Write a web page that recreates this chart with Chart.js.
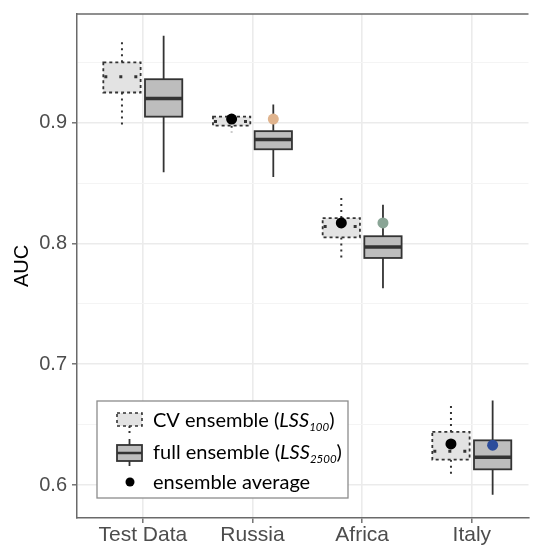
<!DOCTYPE html>
<html><head><meta charset="utf-8">
<script src="https://cdn.jsdelivr.net/npm/chart.js@4.4.1/dist/chart.umd.min.js"></script>
<style>html,body{margin:0;padding:0;background:#fff;overflow:hidden}#wrap{width:534px;height:546px;position:relative}</style>
</head><body><div id="wrap"><canvas id="c"></canvas></div>
<script>
const categories = ['Test Data', 'Russia', 'Africa', 'Italy'];
// CV ensemble (LSS100) box statistics
const cvMin = [0.896, 0.892, 0.787, 0.608];
const cvQ1  = [0.925, 0.8975, 0.805, 0.621];
const cvMed = [0.938, 0.901, 0.814, 0.628];
const cvQ3  = [0.950, 0.905, 0.821, 0.644];
const cvMax = [0.968, 0.906, 0.840, 0.667];
// full ensemble (LSS2500) box statistics
const fullMin = [0.859, 0.855, 0.763, 0.592];
const fullQ1  = [0.905, 0.878, 0.788, 0.613];
const fullMed = [0.920, 0.886, 0.797, 0.623];
const fullQ3  = [0.936, 0.893, 0.806, 0.637];
const fullMax = [0.972, 0.915, 0.832, 0.670];
// ensemble averages
const cvAvg = [null, 0.903, 0.817, 0.634];
const fullAvg = [null, 0.903, 0.817, 0.633];
const fullAvgColors = ['#000000', '#e0b48e', '#8aa596', '#2b4c9b'];
const yMajorTicks = [0.6, 0.7, 0.8, 0.9];
const yAllTicks = [0.6, 0.65, 0.7, 0.75, 0.8, 0.85, 0.9, 0.95];

const DODGE = 0.19, BOXW = 0.34;
const DARK = '#333333';
const AXIS = '#6a6a6a';

function isMajor(v) { return yMajorTicks.some(t => Math.abs(t - v) < 1e-6); }

function drawBox(ctx, x, y, pos, mn, q1, md, q3, mx, cv) {
  const cx = x.getPixelForValue(pos);
  const l = x.getPixelForValue(pos - BOXW / 2), r = x.getPixelForValue(pos + BOXW / 2);
  const yMn = y.getPixelForValue(mn), yQ1 = y.getPixelForValue(q1), yMd = y.getPixelForValue(md);
  const yQ3 = y.getPixelForValue(q3), yMx = y.getPixelForValue(mx);
  ctx.strokeStyle = DARK;
  ctx.lineCap = 'butt';
  ctx.lineWidth = cv ? 2 : 1.8;
  ctx.setLineDash(cv ? [2, 4] : []);
  ctx.beginPath();
  ctx.moveTo(cx, yQ3); ctx.lineTo(cx, yMx);
  ctx.moveTo(cx, yQ1); ctx.lineTo(cx, yMn);
  ctx.stroke();
  ctx.fillStyle = cv ? '#e3e3e3' : '#bdbdbd';
  ctx.fillRect(l, yQ3, r - l, yQ1 - yQ3);
  ctx.lineWidth = 1.8;
  ctx.setLineDash(cv ? [3, 3] : []);
  ctx.strokeRect(l, yQ3, r - l, yQ1 - yQ3);
  ctx.lineWidth = cv ? 3 : 3.5;
  ctx.setLineDash(cv ? [3, 12] : []);
  ctx.beginPath();
  ctx.moveTo(l + (cv ? 1 : 0), yMd); ctx.lineTo(r, yMd);
  ctx.stroke();
  ctx.setLineDash([]);
}

function drawRich(ctx, x, yb, parts, size) {
  let cx = x;
  parts.forEach(p => {
    const s = p.sub ? 11.5 : size;
    ctx.font = (p.it ? 'italic ' : '') + s + 'px Lato';
    ctx.fillText(p.t, cx, yb + (p.sub ? 4 : 0));
    cx += ctx.measureText(p.t).width;
  });
}

const boxPlugin = {
  id: 'boxes',
  beforeDatasetsDraw(chart) {
    const { ctx, chartArea: a, scales: { x, y } } = chart;
    ctx.save();
    ctx.beginPath(); ctx.rect(a.left, a.top, a.right - a.left, a.bottom - a.top); ctx.clip();
    categories.forEach((c, i) => {
      drawBox(ctx, x, y, i - DODGE, cvMin[i], cvQ1[i], cvMed[i], cvQ3[i], cvMax[i], true);
      drawBox(ctx, x, y, i + DODGE, fullMin[i], fullQ1[i], fullMed[i], fullQ3[i], fullMax[i], false);
    });
    ctx.restore();
  },
  afterDraw(chart) {
    const { ctx, chartArea: a } = chart;
    ctx.save();
    ctx.strokeStyle = AXIS; ctx.lineWidth = 1.5;
    ctx.beginPath(); ctx.moveTo(a.left - 0.75, a.top); ctx.lineTo(a.right, a.top); ctx.stroke();
    // legend
    const lx = 97, ly = 401, lw = 251, lh = 97;
    ctx.fillStyle = '#ffffff'; ctx.fillRect(lx, ly, lw, lh);
    ctx.strokeStyle = '#8c8c8c'; ctx.lineWidth = 1.3; ctx.strokeRect(lx, ly, lw, lh);
    ctx.strokeStyle = DARK;
    ctx.lineWidth = 2; ctx.setLineDash([2, 3]);
    ctx.beginPath(); ctx.moveTo(129.5, 426); ctx.lineTo(129.5, 435); ctx.stroke();
    ctx.fillStyle = '#e3e3e3'; ctx.fillRect(117, 413, 25, 13);
    ctx.lineWidth = 1.6; ctx.setLineDash([3, 3]); ctx.strokeRect(117, 413, 25, 13);
    ctx.setLineDash([]);
    ctx.lineWidth = 1.8;
    ctx.beginPath(); ctx.moveTo(129.5, 439); ctx.lineTo(129.5, 445); ctx.moveTo(129.5, 461); ctx.lineTo(129.5, 466); ctx.stroke();
    ctx.fillStyle = '#bdbdbd'; ctx.fillRect(117, 445, 25, 16);
    ctx.strokeRect(117, 445, 25, 16);
    ctx.lineWidth = 2.5; ctx.beginPath(); ctx.moveTo(117, 453); ctx.lineTo(142, 453); ctx.stroke();
    ctx.fillStyle = '#000'; ctx.beginPath(); ctx.arc(130, 482, 4.5, 0, Math.PI * 2); ctx.fill();
    ctx.fillStyle = '#000'; ctx.textBaseline = 'alphabetic'; ctx.textAlign = 'left';
    const fs = 20;
    drawRich(ctx, 153, 427, [{ t: 'CV ensemble (' }, { t: 'LSS', it: true }, { t: '100', it: true, sub: true }, { t: ')' }], fs);
    drawRich(ctx, 153, 459, [{ t: 'full ensemble (' }, { t: 'LSS', it: true }, { t: '2500', it: true, sub: true }, { t: ')' }], fs);
    drawRich(ctx, 153, 489, [{ t: 'ensemble average' }], fs);
    ctx.restore();
  }
};

const cvIdx = categories.map((c, i) => i).filter(i => cvAvg[i] !== null);
const fullIdx = categories.map((c, i) => i).filter(i => fullAvg[i] !== null);

new Chart(document.getElementById('c'), {
  type: 'scatter',
  data: {
    datasets: [
      { label: 'CV average', data: cvIdx.map(i => ({ x: i - DODGE, y: cvAvg[i] })),
        pointRadius: 5.5, pointBackgroundColor: '#000', pointBorderWidth: 0 },
      { label: 'full average', data: fullIdx.map(i => ({ x: i + DODGE, y: fullAvg[i] })),
        pointRadius: 5.5, pointBackgroundColor: fullIdx.map(i => fullAvgColors[i]), pointBorderWidth: 0 }
    ]
  },
  options: {
    responsive: true, maintainAspectRatio: false, animation: false,
    layout: { padding: { top: 14, right: 0, bottom: 0, left: 0 } },
    plugins: { legend: { display: false }, tooltip: { enabled: false } },
    scales: {
      x: {
        type: 'linear', min: -0.6, max: 3.517,
        afterBuildTicks: s => { s.ticks = categories.map((c, i) => ({ value: i })); },
        afterFit: s => { s.height = 28; s.paddingLeft = 0; s.paddingRight = 0; },
        ticks: { callback: v => categories[v] ?? '', color: '#4d4d4d', padding: 0,
                 font: { family: 'Liberation Sans', size: 21 }, maxRotation: 0, autoSkip: false },
        grid: { color: '#ebebeb', lineWidth: 1.6, tickLength: 5, tickColor: AXIS, tickWidth: 1.4 },
        border: { display: true, color: AXIS, width: 1.5 }
      },
      y: {
        type: 'linear', min: 0.5727, max: 0.990,
        afterBuildTicks: s => { s.ticks = yAllTicks.map(v => ({ value: v })); },
        afterFit: s => { s.width = 77; s.paddingTop = 0; s.paddingBottom = 0; },
        ticks: { callback: v => isMajor(v) ? v.toFixed(1) : '', color: '#4d4d4d', padding: 5,
                 font: { family: 'Liberation Sans', size: 20 }, autoSkip: false },
        grid: {
          color: c => isMajor(c.tick.value) ? '#ebebeb' : '#f4f4f4',
          lineWidth: c => isMajor(c.tick.value) ? 1.6 : 1,
          tickLength: 5,
          tickColor: c => isMajor(c.tick.value) ? AXIS : 'rgba(0,0,0,0)',
          tickWidth: 1.4
        },
        border: { display: true, color: AXIS, width: 1.5 },
        title: { display: true, text: 'AUC', color: '#000', padding: { top: 10, bottom: 0 },
                 font: { family: 'Liberation Sans', size: 20 } }
      }
    }
  },
  plugins: [boxPlugin]
});
</script>
</body></html>
